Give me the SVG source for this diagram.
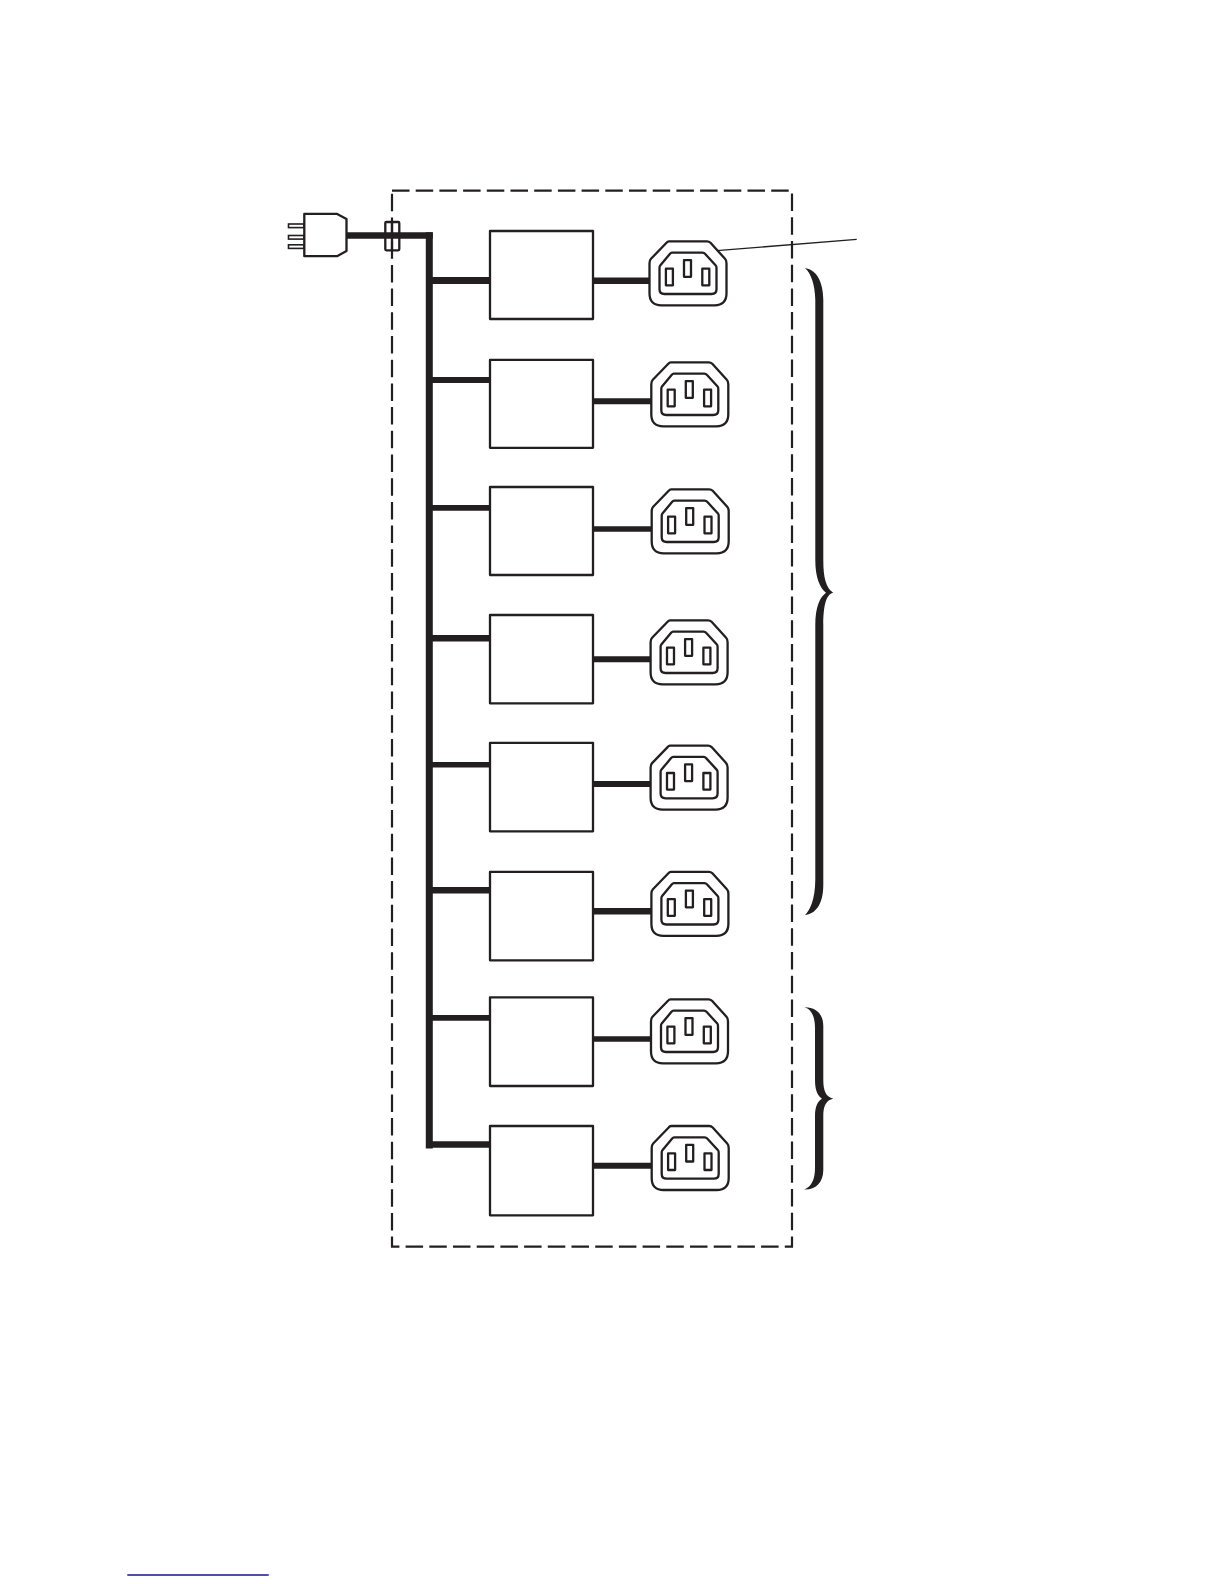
<svg xmlns="http://www.w3.org/2000/svg" width="1224" height="1584" viewBox="0 0 1224 1584">
<style>
.l{fill:none;stroke:#231f20;stroke-width:2.300;stroke-linejoin:round}
.w{fill:#fff;stroke:#231f20;stroke-width:2.300;stroke-linejoin:round}
.p{fill:#fff;stroke:#231f20;stroke-width:1.600}
.c{fill:none;stroke:#231f20;stroke-linecap:butt}
.b{fill:#231f20;stroke:none}
</style>
<defs>
<g id="outlet">
<path class="w" d="M19.500 0H57.500Q59.500 0 61 1.500L75.500 17.500Q77 19 77 22V52Q77 64 65 64H12Q0 64 0 52V22Q0 19 1.500 17.500L17 1.500Q18 0 19.500 0Z"/>
<path class="l" d="M22.400 11.300H53Q54.500 11.300 55.500 12.500L66.500 24.500Q67 25 67 27V48Q67 52.700 62 52.700H15Q10 52.700 10 48V27Q10 25 10.500 24.500L20.500 12.500Q21.500 11.300 22.400 11.300Z"/>
<rect class="l" x="16.400" y="27.400" width="7" height="16.600"/>
<rect class="l" x="34.500" y="18.800" width="7" height="16.700"/>
<rect class="l" x="52.800" y="27.400" width="7" height="16.600"/>
</g>
</defs>
<g id="enclosure"><rect x="392" y="190.700" width="400" height="1056" fill="none" stroke="#231f20" stroke-width="2.200" stroke-dasharray="17.500 6.200"/></g>
<g id="connectors">
<path class="c" stroke-width="6.500" d="M346 235.600H432.800"/>
<path class="c" stroke-width="7" d="M429.300 232.300V1148.500"/>
<path class="c" stroke-width="7" d="M429 280.500H490"/>
<path class="c" stroke-width="6" d="M429 380H490"/>
<path class="c" stroke-width="5.700" d="M429 507.800H490"/>
<path class="c" stroke-width="6.500" d="M429 638.300H490"/>
<path class="c" stroke-width="5.500" d="M429 764.800H490"/>
<path class="c" stroke-width="6.500" d="M429 890.300H490"/>
<path class="c" stroke-width="5.700" d="M429 1017.800H490"/>
<path class="c" stroke-width="6.500" d="M429 1144.500H490"/>
<path class="c" stroke-width="6.500" d="M593 280.800H651"/>
<path class="c" stroke-width="6" d="M593 401.300H653"/>
<path class="c" stroke-width="5.700" d="M593 529H653"/>
<path class="c" stroke-width="6" d="M593 659.300H652"/>
<path class="c" stroke-width="6" d="M593 784H652"/>
<path class="c" stroke-width="6.500" d="M593 911.300H653"/>
<path class="c" stroke-width="5.700" d="M593 1039H652"/>
<path class="c" stroke-width="6" d="M593 1165.800H653"/>
<path class="c" stroke-width="1.300" d="M716.700 250.700L856.700 239.300"/>
</g>
<g id="plug">
<rect class="p" x="288.500" y="224" width="15.500" height="3.600"/>
<rect class="p" x="288.500" y="235.500" width="15.500" height="3.600"/>
<rect class="p" x="288.500" y="244.800" width="15.500" height="3.600"/>
<path class="w" d="M304.300 213.800H336.700L346.500 219V251L337 256.200H304.300Z"/>
</g>
<g id="clamp"><rect class="l" x="385.300" y="222" width="14" height="28.300" rx="1"/><path class="l" d="M392 222V250.300"/></g>
<g id="box1"><rect class="w" x="490" y="231" width="103" height="88"/></g>
<g id="box2"><rect class="w" x="490" y="359.800" width="103" height="88"/></g>
<g id="box3"><rect class="w" x="490" y="487" width="103" height="88"/></g>
<g id="box4"><rect class="w" x="490" y="615" width="103" height="88.300"/></g>
<g id="box5"><rect class="w" x="490" y="742.800" width="103" height="88.500"/></g>
<g id="box6"><rect class="w" x="490" y="871.800" width="103" height="88.500"/></g>
<g id="box7"><rect class="w" x="490" y="997.300" width="103" height="88.700"/></g>
<g id="box8"><rect class="w" x="490" y="1126" width="103" height="89.300"/></g>
<g id="outlet1"><use href="#outlet" x="649.500" y="241.300"/></g>
<g id="outlet2"><use href="#outlet" x="651.300" y="362.300"/></g>
<g id="outlet3"><use href="#outlet" x="651.700" y="489.300"/></g>
<g id="outlet4"><use href="#outlet" x="650.600" y="620.300"/></g>
<g id="outlet5"><use href="#outlet" x="650.600" y="745.600"/></g>
<g id="outlet6"><use href="#outlet" x="651.400" y="871.800"/></g>
<g id="outlet7"><use href="#outlet" x="651" y="999.300"/></g>
<g id="outlet8"><use href="#outlet" x="651.700" y="1126"/></g>
<g id="brace1"><path class="b" d="M805 268.300C815 269 823.300 280 823.300 300V560C823.300 578 826 588 833.300 592.700C826 594 823.300 606 823.300 625V885C823.300 905 815 914 805 915C810 910 815 900 815.300 880V625C815.300 607 820 597 826 592.700C820 588 815.300 578 815.300 560V300C815 285 811 273 805 268.300Z"/></g>
<g id="brace2"><path class="b" d="M804.300 1007.300C815 1007 823.300 1013 823.300 1026V1080C823.300 1091 826 1097 833.300 1098.700C826 1100 823.300 1106 823.300 1116V1170C823.300 1183 815 1190 804.300 1189.500C811 1187 815 1180 815 1168V1116C815 1106 818 1101 822 1098.700C818 1096 815 1091 815 1080V1028C815 1016 811 1009 804.300 1007.300Z"/></g>
<g id="footnote-rule"><path d="M127.300 1575H268.700" stroke="#14148c" stroke-width="1.600" fill="none"/></g>
</svg>
